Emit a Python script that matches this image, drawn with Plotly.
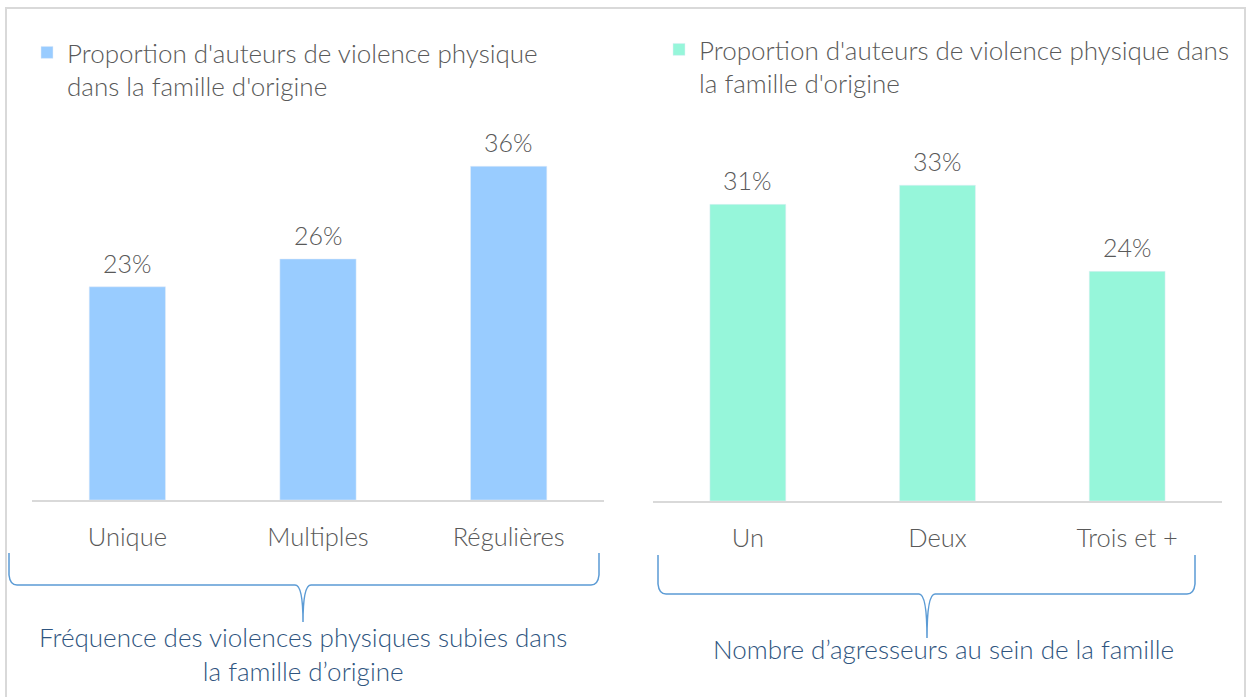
import plotly.graph_objects as go

W, H = 1247, 697

# Data
cats_left = ["Unique", "Multiples", "Régulières"]
vals_left = [23, 26, 36]
cats_right = ["Un", "Deux", "Trois et +"]
vals_right = [31, 33, 24]
legend_name_left = "Proportion d'auteurs de violence physique<br>dans la famille d'origine"
legend_name_right = "Proportion d'auteurs de violence physique dans<br>la famille d'origine"
group_title_left = "Fréquence des violences physiques subies dans<br>la famille d’origine"
group_title_right = "Nombre d’agresseurs au sein de la famille"

COL_LEFT = "#99CCFF"
COL_RIGHT = "#96F6DA"
GREY = "#595959"
BLUE_TXT = "#2F5580"
BRACE = "#5B9BD5"
FONT = "Lato"
WT = 300


def px(x):
    return x / W


def py(y):
    return 1 - y / H


def fnt(color, size=25):
    return dict(size=size, color=color, family=FONT, weight=WT)


fig = go.Figure()
fig.add_trace(go.Bar(x=cats_left, y=vals_left, marker_color=COL_LEFT, name=legend_name_left,
                     xaxis="x", yaxis="y", legend="legend", showlegend=True))
fig.add_trace(go.Bar(x=cats_right, y=vals_right, marker_color=COL_RIGHT, name=legend_name_right,
                     xaxis="x2", yaxis="y2", legend="legend2", showlegend=True))

annotations = []
for c, v in zip(cats_left, vals_left):
    annotations.append(dict(x=c, y=v, xref="x", yref="y", text=f"{v}%", showarrow=False,
                            yanchor="bottom", yshift=7, font=fnt(GREY)))
for c, v in zip(cats_right, vals_right):
    annotations.append(dict(x=c, y=v, xref="x2", yref="y2", text=f"{v}%", showarrow=False,
                            yanchor="bottom", yshift=7, font=fnt(GREY)))

annotations.append(dict(x=px(303), y=py(654), xref="paper", yref="paper", text=group_title_left,
                        showarrow=False, xanchor="center", yanchor="middle", font=fnt(BLUE_TXT, 26)))
annotations.append(dict(x=px(943), y=py(649), xref="paper", yref="paper", text=group_title_right,
                        showarrow=False, xanchor="center", yanchor="middle", font=fnt(BLUE_TXT, 26)))


def brace(x0, x1, xm, ytop, ymid, ytip):
    pts = lambda x, y: f"{px(x)},{py(y)}"
    return (f"M{pts(x0, ytop)} L{pts(x0, ymid - 10)} Q{pts(x0 + 1, ymid)} {pts(x0 + 8, ymid)} "
            f"L{pts(xm - 8, ymid)} Q{pts(xm, ymid)} {pts(xm, ytip)} "
            f"Q{pts(xm, ymid)} {pts(xm + 8, ymid)} "
            f"L{pts(x1 - 8, ymid)} Q{pts(x1 - 1, ymid)} {pts(x1, ymid - 10)} L{pts(x1, ytop)}")


shapes = [
    dict(type="rect", xref="paper", yref="paper", x0=px(6), x1=px(1245), y0=py(702), y1=py(8),
         line=dict(color="#D9D9D9", width=2), layer="below"),
    dict(type="path", xref="paper", yref="paper", path=brace(9, 599, 303, 553, 585, 622),
         line=dict(color=BRACE, width=1.5)),
    dict(type="path", xref="paper", yref="paper", path=brace(658, 1195, 927, 555, 594, 638),
         line=dict(color=BRACE, width=1.5)),
]

axis_common = dict(showline=True, linecolor="#D9D9D9", linewidth=2, showgrid=False, zeroline=False,
                   ticks="", tickfont=fnt(GREY, 25.5), ticklabelstandoff=13, fixedrange=True)

fig.update_layout(
    width=W, height=H, margin=dict(l=0, r=0, t=0, b=0),
    paper_bgcolor="white", plot_bgcolor="white",
    bargap=0.6,
    xaxis=dict(domain=[px(32), px(604)], anchor="y", **axis_common),
    xaxis2=dict(domain=[px(653), px(1222)], anchor="y2", **axis_common),
    yaxis=dict(domain=[py(500), py(100)], range=[0, 400 / 9.27], visible=False, anchor="x"),
    yaxis2=dict(domain=[py(501), py(100)], range=[0, 401 / 9.57], visible=False, anchor="x2"),
    legend=dict(x=px(27), y=py(29), xanchor="left", yanchor="top", valign="top",
                font=fnt(GREY, 26), bgcolor="rgba(0,0,0,0)"),
    legend2=dict(x=px(659), y=py(26), xanchor="left", yanchor="top", valign="top",
                 font=fnt(GREY, 26), bgcolor="rgba(0,0,0,0)"),
    annotations=annotations,
    shapes=shapes,
    font=dict(family=FONT),
)

fig.write_html("out.html", post_script="document.body.style.margin='0';",
               config={"displayModeBar": False})
